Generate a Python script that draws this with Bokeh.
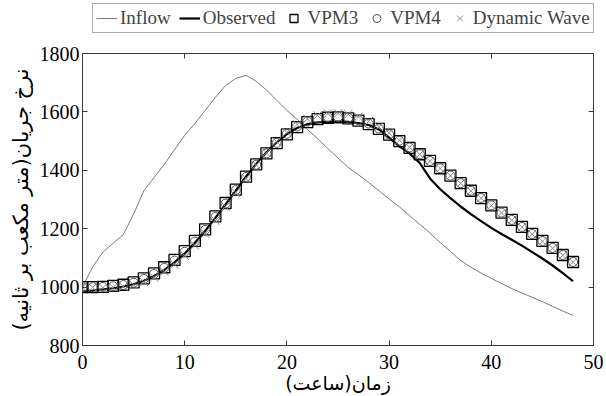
from bokeh.plotting import figure
from bokeh.layouts import column
from bokeh.models import (Legend, LegendItem, LinearAxis, Range1d, FixedTicker,
                          CustomLabelingPolicy)
from bokeh.embed import file_html
from bokeh.resources import INLINE

hours = list(range(0, 49))

inflow = [1000, 1070, 1120, 1150, 1180, 1250, 1330, 1375, 1420, 1470,
          1520, 1560, 1605, 1650, 1690, 1715, 1725, 1705, 1675, 1640,
          1605, 1575, 1540, 1508, 1475, 1442, 1410, 1385, 1358, 1330,
          1302, 1275, 1245, 1215, 1185, 1153, 1122, 1091, 1068, 1048,
          1030, 1012, 995, 980, 965, 950, 934, 918, 903]

observed = [985, 988, 992, 996, 1002, 1010, 1022, 1038, 1058, 1085,
            1115, 1152, 1192, 1237, 1283, 1330, 1378, 1422, 1462, 1496,
            1524, 1545, 1558, 1564, 1566, 1567, 1566, 1562, 1555, 1540,
            1512, 1482, 1458, 1425, 1372, 1335, 1305, 1276, 1250, 1226,
            1203, 1182, 1162, 1142, 1120, 1098, 1074, 1048, 1020]

vpm3 = [1000, 1000, 1001, 1004, 1008, 1016, 1030, 1047, 1068, 1093,
        1123, 1158, 1198, 1242, 1288, 1334, 1378, 1420, 1458, 1493,
        1523, 1548, 1565, 1575, 1580, 1581, 1578, 1570, 1558, 1542,
        1522, 1500, 1477, 1455, 1432, 1407, 1382, 1356, 1330, 1305,
        1280, 1255, 1230, 1206, 1182, 1158, 1134, 1110, 1086]

vpm4 = [1000, 1000, 1001, 1003, 1007, 1015, 1028, 1045, 1066, 1091,
        1121, 1156, 1196, 1240, 1286, 1332, 1377, 1419, 1458, 1494,
        1525, 1550, 1567, 1577, 1582, 1583, 1580, 1572, 1560, 1543,
        1523, 1501, 1478, 1455, 1432, 1407, 1382, 1356, 1330, 1305,
        1280, 1255, 1230, 1206, 1182, 1158, 1134, 1110, 1086]

dynamic = [1000, 999, 998, 999, 1002, 1008, 1018, 1033, 1053, 1078,
           1108, 1143, 1183, 1228, 1276, 1324, 1372, 1418, 1460, 1498,
           1530, 1557, 1576, 1588, 1594, 1595, 1592, 1583, 1568, 1549,
           1527, 1503, 1479, 1455, 1431, 1406, 1381, 1355, 1329, 1304,
           1279, 1254, 1229, 1205, 1181, 1157, 1133, 1109, 1085]

x_ticks = [0, 10, 20, 30, 40, 50]
y_ticks = [800, 1000, 1200, 1400, 1600, 1800]
x_label = "زمان(ساعت)"
y_label = "نرخ جریان(متر مکعب بر ثانیه)"
names = ["Inflow", "Observed", "VPM3", "VPM4", "Dynamic Wave"]

SERIF = "Liberation Serif"
FRAME = "#3a3a3a"

STYLES = [
    dict(kind="line", line_color="#7a7a7a", line_width=1),
    dict(kind="line", line_color="black", line_width=2.2),
    dict(kind="scatter", marker="square", size=11, fill_color=None, line_color="black", line_width=1.3),
    dict(kind="scatter", marker="circle", size=9, fill_color=None, line_color="#555555", line_width=1),
    dict(kind="scatter", marker="x", size=12, line_color="#8a8a8a", line_width=1),
]


def draw(fig, xs, ys, style):
    st = dict(style)
    kind = st.pop("kind")
    if kind == "line":
        return fig.line(xs, ys, **st)
    return fig.scatter(xs, ys, **st)


# ---- main chart ----
p = figure(frame_width=511, frame_height=292, output_backend="svg",
           toolbar_location=None, x_range=Range1d(0, 50), y_range=Range1d(800, 1800),
           min_border_left=82, min_border_right=13, min_border_top=13, min_border_bottom=51)
p.grid.visible = False
p.outline_line_color = FRAME
p.outline_line_width = 1

for series, style in zip([inflow, observed, vpm3, vpm4, dynamic], STYLES):
    draw(p, hours, series, style)

for ax in (p.xaxis[0], p.yaxis[0]):
    ax.major_tick_in = 5
    ax.major_tick_out = 0
    ax.minor_tick_in = 0
    ax.minor_tick_out = 0
    ax.axis_line_color = FRAME
    ax.major_tick_line_color = FRAME
    ax.major_label_text_font = SERIF
    ax.major_label_text_font_size = "20px"
    ax.major_label_text_color = "black"
    ax.axis_label_text_font = "DejaVu Sans"
    ax.axis_label_text_font_style = "normal"
    ax.axis_label_text_color = "black"

p.xaxis[0].ticker = FixedTicker(ticks=x_ticks)
p.yaxis[0].ticker = FixedTicker(ticks=y_ticks)
p.xaxis[0].axis_label = x_label
p.yaxis[0].axis_label = y_label
p.xaxis[0].axis_label_text_font_size = "19px"
p.yaxis[0].axis_label_text_font_size = "21px"
p.xaxis[0].major_label_standoff = 9
p.yaxis[0].major_label_standoff = 3
p.xaxis[0].axis_label_standoff = 0
p.yaxis[0].axis_label_standoff = 4

top = LinearAxis(ticker=FixedTicker(ticks=x_ticks), major_tick_in=5, major_tick_out=0,
                 minor_tick_in=0, minor_tick_out=0,
                 major_label_policy=CustomLabelingPolicy(code="return new Set()"),
                 major_label_standoff=0, axis_line_color=None, major_tick_line_color=FRAME)
right = LinearAxis(ticker=FixedTicker(ticks=y_ticks), major_tick_in=5, major_tick_out=0,
                   minor_tick_in=0, minor_tick_out=0,
                   major_label_policy=CustomLabelingPolicy(code="return new Set()"),
                   major_label_standoff=0, axis_line_color=None, major_tick_line_color=FRAME)
p.add_layout(top, "above")
p.add_layout(right, "right")

# ---- legend strip: a legend-only figure whose proxy renderers hold a single NaN ----
nan = [float("nan")]
lg = figure(frame_width=606, frame_height=40, output_backend="svg", toolbar_location=None,
            x_axis_type=None, y_axis_type=None, min_border=0,
            x_range=Range1d(0, 1), y_range=Range1d(0, 1))
lg.grid.visible = False
lg.outline_line_color = None
legend_renderers = [draw(lg, nan, nan, style) for style in STYLES]

legend = Legend(items=[LegendItem(label=n, renderers=[r], index=0) for n, r in
                       zip(names, legend_renderers)],
                orientation="horizontal", location=(92, 7),
                label_text_font=SERIF, label_text_font_size="19px",
                glyph_width=21, glyph_height=20, label_standoff=3, spacing=8,
                padding=3, margin=0, border_line_color="#555555",
                background_fill_alpha=1.0, label_height=20)
lg.add_layout(legend, "center")

layout = column(lg, p, spacing=0)
open("out.html", "w").write(file_html(layout, INLINE))
